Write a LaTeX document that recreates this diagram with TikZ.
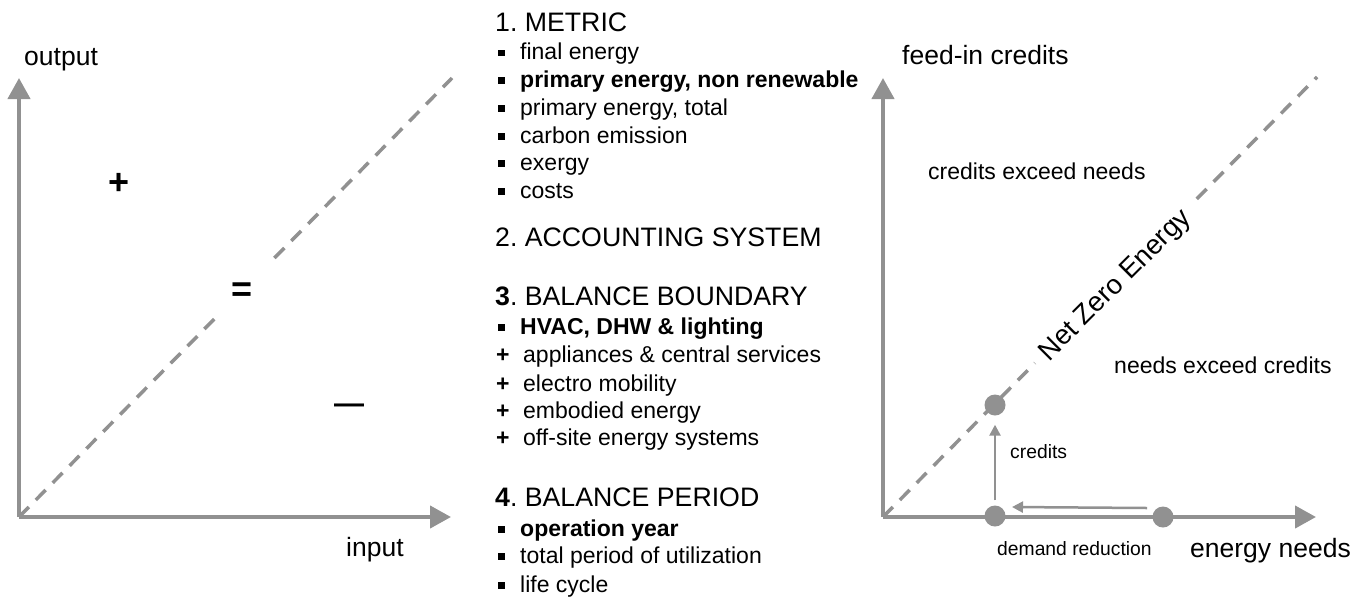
\documentclass[tikz,border=0pt]{standalone}
\usepackage{fontspec}
\setmainfont{Liberation Sans}
\usetikzlibrary{arrows.meta,calc}
\definecolor{axgray}{RGB}{145,145,145}
\frenchspacing
\newcommand\fbig{\fontsize{26.5pt}{30pt}\selectfont}
\newcommand\fhead{\fontsize{26.7pt}{30pt}\selectfont}
\newcommand\fitem{\fontsize{23pt}{27pt}\selectfont}
\newcommand\fsmall{\fontsize{19.3pt}{23pt}\selectfont}
\newcommand\fsym{\fontsize{36pt}{40pt}\selectfont}
\newcommand\sqb{\makebox[22pt][l]{\rule[3.5pt]{6.5pt}{6.5pt}}}
\newcommand\plb{\makebox[27pt][l]{\textbf{+}}}
\begin{document}
\begin{tikzpicture}[x=1pt,y=-1pt,
  axis/.style={draw=axgray,line width=4.2pt,-{Triangle[length=21pt,width=22pt]}},
  diag/.style={draw=axgray,line width=3.5pt,dash pattern=on 14pt off 10pt},
  thinarr/.style={draw=axgray,line width=2.5pt,-{Triangle[length=11pt,width=11pt]}},
  dot/.style={circle,fill=axgray,minimum size=21pt,inner sep=0pt},
  txt/.style={inner sep=0pt,anchor=base west,text=black},
  big/.style={txt,font=\fbig},
  head/.style={txt,font=\fhead},
  item/.style={txt,font=\fitem},
  small/.style={txt,font=\fsmall},
  sym/.style={inner sep=0pt,font=\fsym\bfseries}]
\useasboundingbox (0,0) rectangle (1365,598);

% ---------- left chart ----------
\coordinate (LO) at (19,517);
\coordinate (LY) at (19,78);
\coordinate (LX) at (451,517);
\coordinate (LD) at (452,78);
\draw[diag] (LO) -- ($(LO)!0.46!(LD)$);
\draw[diag] ($(LO)!0.59!(LD)$) -- (LD);
\draw[axis] (LO) -- (LY);
\draw[axis] (LO) -- (LX);
\node[big] (lout) at (24,65) {output};
\node[big] (lin) at (346,556) {input};
\node[sym] (plus) at (119,184) {+};
\node[sym] (eq) at (242,292) {=};
\node[sym,font=\fontsize{30pt}{34pt}\selectfont\bfseries] (minus) at (349,409) {—};

% ---------- middle list ----------
\node[head] (h1) at (495,31.5) {1. METRIC};
\node[item] (a1) at (498,59.5) {\sqb final energy};
\node[item] (a2) at (498,87) {\sqb\textbf{primary energy, non renewable}};
\node[item] (a3) at (498,115) {\sqb primary energy, total};
\node[item] (a4) at (498,143) {\sqb carbon emission};
\node[item] (a5) at (498,170) {\sqb exergy};
\node[item] (a6) at (498,198) {\sqb costs};
\node[head] (h2) at (495,246) {2. ACCOUNTING SYSTEM};
\node[head] (h3) at (495,305) {\textbf{3}. BALANCE BOUNDARY};
\node[item] (b1) at (498,334) {\sqb\textbf{HVAC, DHW \& lighting}};
\node[item] (b2) at (496,362) {\plb appliances \& central services};
\node[item] (b3) at (496,391) {\plb electro mobility};
\node[item] (b4) at (496,418) {\plb embodied energy};
\node[item] (b5) at (496,445) {\plb off-site energy systems};
\node[head] (h4) at (495,506) {\textbf{4}. BALANCE PERIOD};
\node[item] (c1) at (498,536) {\sqb\textbf{operation year}};
\node[item] (c2) at (498,563) {\sqb total period of utilization};
\node[item] (c3) at (498,592) {\sqb life cycle};

% ---------- right chart ----------
\coordinate (RO) at (883,517);
\coordinate (RY) at (883,78);
\coordinate (RX) at (1316,517);
\coordinate (RD) at (1317,77);
\draw[diag] (RO) -- ($(RO)!0.35!(RD)$);
\draw[diag] ($(RO)!0.723!(RD)$) -- (RD);
\draw[axis] (RO) -- (RY);
\draw[axis] (RO) -- (RX);
\node[inner sep=0pt,font=\fontsize{27.5pt}{30pt}\selectfont,rotate=45] (nze) at (1116,286) {Net Zero Energy};
\node[dot] (d1) at (995,516) {};
\node[dot] (d2) at (1163,517) {};
\node[dot] (d3) at (995,405) {};
\draw[thinarr] ([yshift=5pt]d1.north) -- ([yshift=-9pt]d3.south);
\draw[thinarr] ([xshift=-16pt,yshift=9pt]d2.center) -- ([xshift=17pt,yshift=9pt]d1.center);
\node[big] (rfeed) at (902,64.5) {feed-in credits};
\node[item] (rcen) at (928,179) {credits exceed needs};
\node[item] (rnec) at (1114,373) {needs exceed credits};
\node[small] (rcred) at (1010,458) {credits};
\node[small] (rdem) at (997,555) {demand reduction};
\node[big] (ren) at (1190,557) {energy needs};
\end{tikzpicture}
\end{document}
